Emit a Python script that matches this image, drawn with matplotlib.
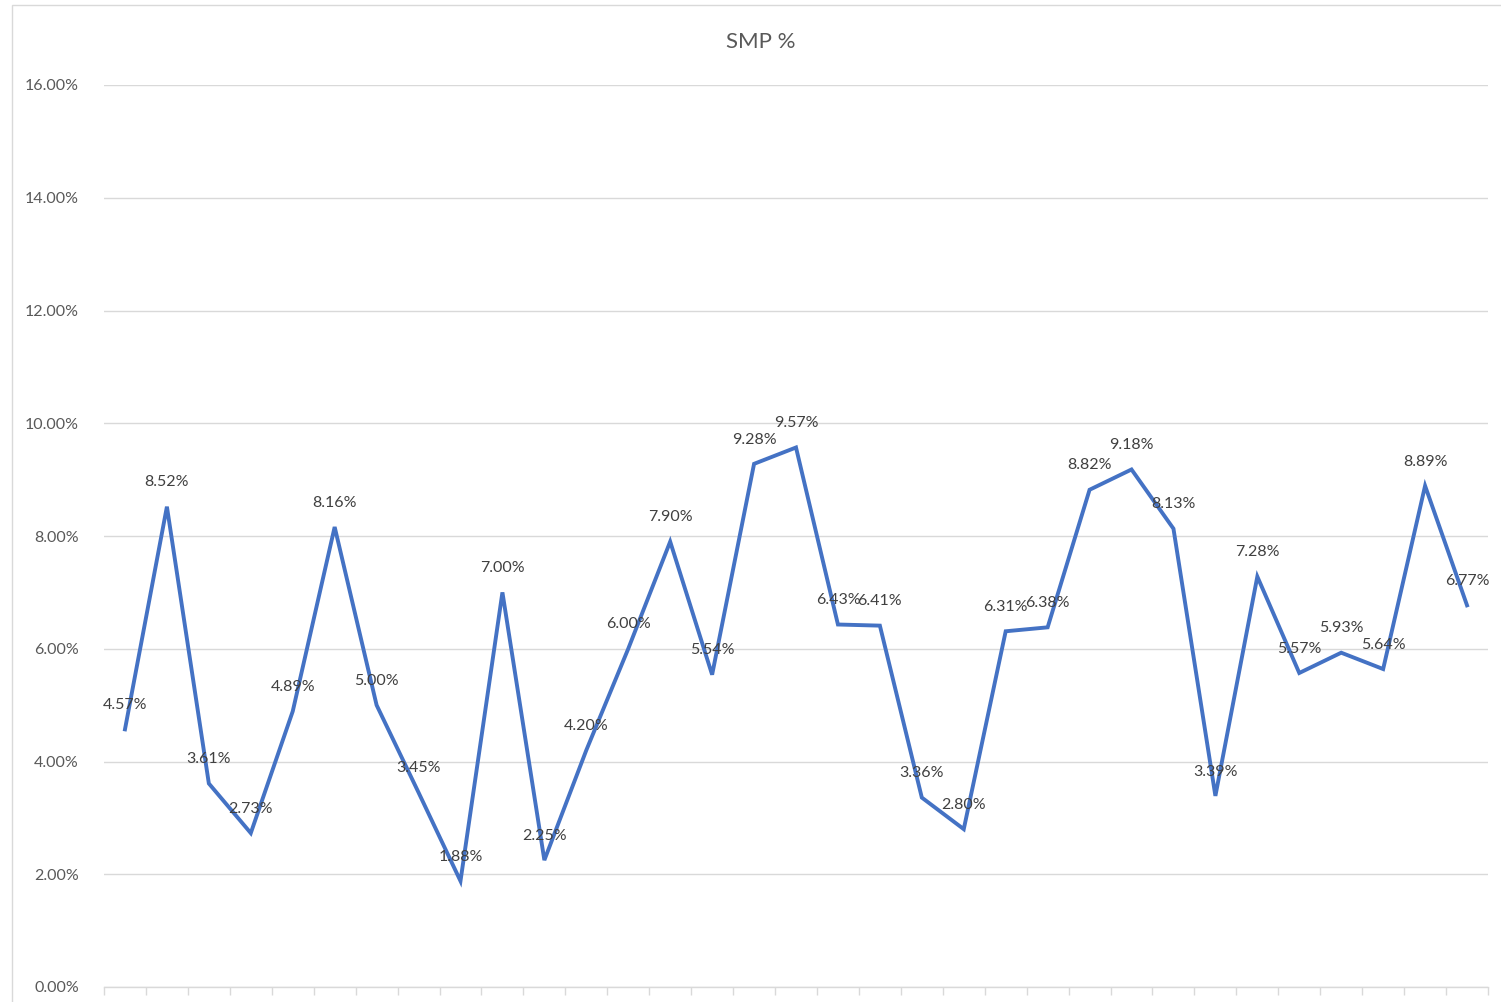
import numpy as np
import matplotlib
matplotlib.use('Agg')
from matplotlib import pyplot as plt
from matplotlib.patches import Rectangle
from matplotlib.ticker import FuncFormatter, MultipleLocator

# dados ------------------------------------------------------------------

smp = [4.57, 8.52, 3.61, 2.73, 4.89, 8.16, 5.00, 3.45, 1.88, 7.00, 2.25,
       4.20, 6.00, 7.90, 5.54, 9.28, 9.57, 6.43, 6.41, 3.36, 2.80, 6.31,
       6.38, 8.82, 9.18, 8.13, 3.39, 7.28, 5.57, 5.93, 5.64, 8.89, 6.77]
titulo = 'SMP %'

# ------------------------------------------------------------------------

plt.rcParams['font.family'] = ['Lato', 'DejaVu Sans']
cinza = '#595959'
linha = '#d9d9d9'

fig = plt.figure(figsize=(15.01, 10.02), dpi=100)
fig.patches.append(Rectangle((12/1501, -0.1), 1.2, 1.1 - 5/1002, transform=fig.transFigure,
                             fill=False, edgecolor=linha, linewidth=1.0))

ax = fig.add_axes([104/1501, 1 - 987/1002, (1488-104)/1501, (987-85)/1002])

x = np.arange(len(smp))
y = np.array(smp) / 100.0
ax.plot(x, y, color='#4472C4', linewidth=2.8, solid_joinstyle='miter', zorder=3)

for xi, yi in zip(x, y):
    ax.annotate('%.2f%%' % (yi*100), (xi, yi), xytext=(0, 17.5), textcoords='offset points',
                ha='center', va='center', fontsize=11.5, color='#404040', zorder=4)

ax.set_xlim(-0.5, len(smp) - 0.5)
ax.set_ylim(0, 0.16)
ax.yaxis.set_major_locator(MultipleLocator(0.02))
ax.yaxis.set_major_formatter(FuncFormatter(lambda v, p: '%.2f%%' % (v*100)))
ax.grid(axis='y', color=linha, linewidth=1.0)
ax.set_axisbelow(True)

ax.set_xticks(np.arange(-0.5, len(smp), 1.0))
ax.set_xticklabels([])
ax.tick_params(axis='x', length=6, color=linha, width=1.0)
ax.tick_params(axis='y', length=0, labelsize=11.5, labelcolor=cinza, pad=18)

for s in ['top', 'right', 'left']:
    ax.spines[s].set_visible(False)
ax.spines['bottom'].set_color(linha)
ax.spines['bottom'].set_linewidth(1.0)

fig.text(0.507, 1 - 42/1002, titulo, ha='center', va='center', fontsize=16, color=cinza)

plt.savefig('out.png', dpi=100)
